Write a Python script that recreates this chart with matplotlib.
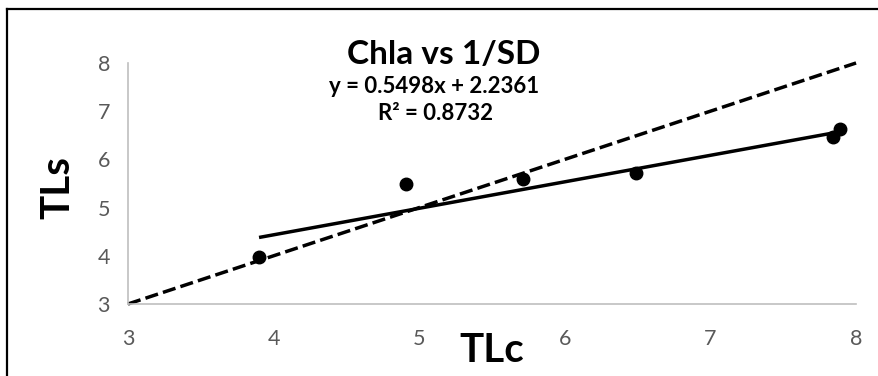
import numpy as np
import matplotlib.pyplot as plt
from matplotlib.lines import Line2D

# observed points
tlc = [3.90, 4.91, 5.71, 6.49, 7.84, 7.89]
tls = [3.97, 5.49, 5.59, 5.72, 6.46, 6.63]

# trendline from the chart label
slope = 0.5498
intercept = 2.2361
r2 = 0.8732

# 1:1 reference line
ref = [3, 8]

plt.rcParams['font.family'] = ['Lato', 'DejaVu Sans']

fig = plt.figure(figsize=(8.79, 3.76), dpi=100)
ax = fig.add_axes([0.1456, 0.1915, 0.8283, 0.641])

ax.plot(ref, ref, color='black', lw=2.5, ls=(0, (3.8, 1.5)), clip_on=False, zorder=2)

xs = np.array([min(tlc), max(tlc)])
ax.plot(xs, slope * xs + intercept, color='black', lw=2.5, solid_capstyle='butt', zorder=3)

ax.plot(tlc, tls, 'o', color='black', ms=9, clip_on=False, zorder=4)

ax.set_xlim(3, 8)
ax.set_ylim(3, 8)
ax.set_xticks([3, 4, 5, 6, 7, 8])
ax.set_yticks([3, 4, 5, 6, 7, 8])
for side in ['top', 'right']:
    ax.spines[side].set_visible(False)
for side in ['left', 'bottom']:
    ax.spines[side].set_color('#BFBFBF')
    ax.spines[side].set_linewidth(1.2)
ax.tick_params(length=0, labelsize=15.5, colors='#595959')
ax.tick_params(axis='x', pad=18)
ax.tick_params(axis='y', pad=13)

fig.text(0.505, 0.854, 'Chla vs 1/SD', ha='center', va='center', fontsize=24, fontweight='bold')
fig.text(0.494, 0.769, f'y = {slope}x + {intercept}', ha='center', va='center', fontsize=16, fontweight='bold')
fig.text(0.495, 0.697, f'R² = {r2}', ha='center', va='center', fontsize=16, fontweight='bold')

fig.text(0.066, 0.5, 'TLs', ha='center', va='center', rotation=90, fontsize=29, fontweight='bold')
fig.text(0.56, 0.069, 'TLc', ha='center', va='center', fontsize=29, fontweight='bold')

# outer frame (only left and top edges fall inside the picture)
fig.add_artist(Line2D([0.0074, 0.0074], [0, 0.976], color='black', lw=1.6))
fig.add_artist(Line2D([0.0074, 1.0], [0.976, 0.976], color='black', lw=1.6))

fig.savefig('out.png', dpi=100)
